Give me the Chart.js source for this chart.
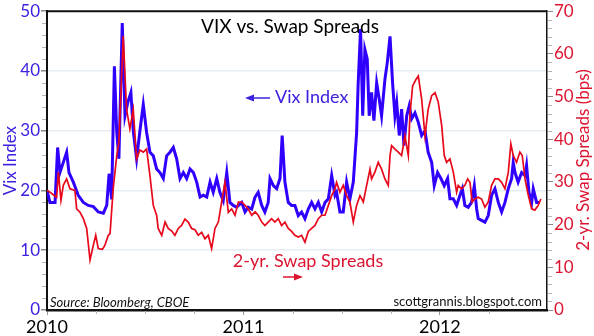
<!DOCTYPE html>
<html>
<head>
<meta charset="utf-8">
<script src="https://cdn.jsdelivr.net/npm/chart.js@4.4.1/dist/chart.umd.min.js"></script>
<style>
  html, body { margin: 0; padding: 0; background: #fff; }
  canvas { display: block; }
</style>
</head>
<body>
<canvas id="chart" width="594" height="336"></canvas>
<script>
// dates as fractional years
const vixDates = [
  2010.000, 2010.015, 2010.041, 2010.054, 2010.066, 2010.083, 2010.100, 2010.112, 2010.134, 2010.159,
  2010.185, 2010.210, 2010.236, 2010.261, 2010.287, 2010.304, 2010.316, 2010.329, 2010.343, 2010.355,
  2010.366, 2010.383, 2010.397, 2010.411, 2010.427, 2010.439, 2010.456, 2010.473, 2010.490, 2010.507,
  2010.524, 2010.541, 2010.558, 2010.575, 2010.592, 2010.609, 2010.626, 2010.643, 2010.660, 2010.677,
  2010.694, 2010.711, 2010.728, 2010.745, 2010.762, 2010.779, 2010.795, 2010.813, 2010.830, 2010.846,
  2010.864, 2010.880, 2010.897, 2010.915, 2010.931, 2010.948, 2010.965, 2010.991, 2011.008, 2011.024,
  2011.042, 2011.059, 2011.075, 2011.093, 2011.109, 2011.126, 2011.135, 2011.152, 2011.169, 2011.186,
  2011.197, 2011.211, 2011.228, 2011.245, 2011.262, 2011.279, 2011.296, 2011.313, 2011.330, 2011.347,
  2011.364, 2011.381, 2011.398, 2011.415, 2011.432, 2011.449, 2011.466, 2011.474, 2011.491, 2011.508,
  2011.525, 2011.542, 2011.559, 2011.567, 2011.576, 2011.584, 2011.596, 2011.607, 2011.618, 2011.630,
  2011.640, 2011.652, 2011.664, 2011.678, 2011.691, 2011.703, 2011.720, 2011.732, 2011.746, 2011.759,
  2011.771, 2011.780, 2011.793, 2011.805, 2011.817, 2011.831, 2011.844, 2011.856, 2011.873, 2011.890,
  2011.907, 2011.924, 2011.940, 2011.958, 2011.971, 2011.988, 2012.005, 2012.022, 2012.039, 2012.051,
  2012.068, 2012.085, 2012.102, 2012.114, 2012.127, 2012.144, 2012.161, 2012.175, 2012.187, 2012.195,
  2012.212, 2012.229, 2012.246, 2012.263, 2012.280, 2012.297, 2012.314, 2012.331, 2012.348, 2012.365,
  2012.373, 2012.382, 2012.398, 2012.416, 2012.433, 2012.441, 2012.453, 2012.467, 2012.475, 2012.492,
  2012.509
];
const vixValues = [
  20.0, 18.0, 18.0, 27.2, 23.0, 24.7, 26.4, 23.0, 21.4, 19.2,
  18.0, 17.5, 17.3, 16.4, 16.2, 17.5, 22.8, 18.5, 40.8, 29.7,
  25.3, 48.0, 32.5, 34.7, 36.4, 30.0, 25.3, 30.0, 34.4, 29.7,
  26.4, 25.8, 23.6, 23.0, 22.0, 25.8, 26.4, 27.2, 25.3, 22.0,
  23.0, 22.0, 23.6, 23.0, 21.4, 18.9, 19.2, 18.9, 21.4, 19.7,
  22.0, 19.7, 18.3, 23.0, 18.0, 17.5, 17.2, 18.0, 16.4, 17.2,
  16.9, 18.9, 19.7, 17.5, 16.4, 18.0, 22.0, 20.8, 20.3, 22.0,
  29.2, 21.4, 18.0, 17.5, 17.5, 15.8, 16.4, 15.3, 16.9, 18.0,
  16.9, 18.0, 16.4, 18.0, 18.6, 22.5, 19.2, 19.7, 16.4, 16.4,
  21.4, 18.6, 21.4, 25.3, 29.7, 38.0, 47.0, 32.5, 43.6, 42.0,
  32.5, 36.4, 31.7, 38.0, 35.3, 32.5, 38.6, 41.4, 45.8, 38.0,
  32.5, 34.7, 29.2, 33.6, 27.5, 32.5, 34.2, 32.0, 33.0, 31.4,
  29.2, 30.0, 26.4, 24.7, 20.8, 23.0, 22.0, 20.8, 22.0, 18.6,
  18.6, 17.5, 19.2, 20.3, 17.5, 17.2, 18.0, 20.8, 16.9, 15.3,
  15.0, 14.7, 15.8, 19.2, 20.3, 18.0, 16.4, 18.0, 20.3, 22.0,
  24.7, 23.0, 21.4, 23.0, 22.5, 24.2, 19.7, 18.0, 20.3, 18.0,
  18.0
];

const swapDates = [
  2010.000, 2010.015, 2010.032, 2010.049, 2010.058, 2010.071, 2010.083, 2010.100, 2010.117, 2010.142,
  2010.151, 2010.168, 2010.185, 2010.202, 2010.219, 2010.236, 2010.248, 2010.261, 2010.282, 2010.295,
  2010.312, 2010.321, 2010.337, 2010.355, 2010.366, 2010.388, 2010.405, 2010.422, 2010.439, 2010.456,
  2010.473, 2010.490, 2010.507, 2010.524, 2010.541, 2010.558, 2010.566, 2010.584, 2010.601, 2010.617,
  2010.635, 2010.651, 2010.668, 2010.685, 2010.702, 2010.719, 2010.736, 2010.753, 2010.770, 2010.787,
  2010.804, 2010.821, 2010.838, 2010.855, 2010.872, 2010.889, 2010.906, 2010.923, 2010.940, 2010.957,
  2010.974, 2010.991, 2011.008, 2011.024, 2011.042, 2011.059, 2011.075, 2011.093, 2011.109, 2011.126,
  2011.143, 2011.160, 2011.177, 2011.194, 2011.211, 2011.228, 2011.245, 2011.262, 2011.279, 2011.296,
  2011.313, 2011.330, 2011.347, 2011.364, 2011.381, 2011.398, 2011.415, 2011.432, 2011.449, 2011.466,
  2011.474, 2011.491, 2011.508, 2011.525, 2011.542, 2011.559, 2011.576, 2011.593, 2011.610, 2011.627,
  2011.644, 2011.652, 2011.669, 2011.686, 2011.703, 2011.720, 2011.737, 2011.746, 2011.754, 2011.771,
  2011.788, 2011.805, 2011.822, 2011.839, 2011.847, 2011.861, 2011.878, 2011.890, 2011.907, 2011.924,
  2011.940, 2011.958, 2011.975, 2011.991, 2012.009, 2012.022, 2012.034, 2012.051, 2012.068, 2012.085,
  2012.093, 2012.110, 2012.127, 2012.141, 2012.153, 2012.164, 2012.178, 2012.195, 2012.212, 2012.229,
  2012.246, 2012.263, 2012.280, 2012.297, 2012.314, 2012.331, 2012.348, 2012.361, 2012.373, 2012.390,
  2012.407, 2012.419, 2012.433, 2012.450, 2012.467, 2012.483, 2012.500, 2012.514
];
const swapValues = [
  28.0, 27.6, 27.0, 26.4, 32.3, 25.7, 29.2, 30.7, 28.4, 28.0,
  23.7, 22.9, 21.4, 19.1, 11.7, 15.2, 17.5, 14.4, 14.2, 15.2,
  17.5, 17.9, 28.4, 36.2, 39.3, 64.2, 47.0, 42.4, 47.0, 35.4,
  37.5, 37.0, 37.7, 31.5, 24.5, 22.2, 19.1, 17.5, 20.6, 19.1,
  18.5, 17.5, 19.1, 19.8, 21.3, 20.6, 19.1, 18.8, 17.5, 18.2,
  16.7, 17.5, 14.4, 19.1, 20.6, 25.3, 29.9, 22.9, 23.7, 22.2,
  25.3, 25.3, 24.5, 23.7, 22.2, 23.0, 22.2, 20.6, 19.8, 20.6,
  21.4, 20.6, 21.4, 19.8, 20.6, 19.1, 18.4, 17.5, 17.1, 17.5,
  15.9, 18.4, 19.1, 19.8, 21.4, 22.2, 22.2, 24.5, 26.8, 28.4,
  29.9, 27.6, 29.2, 26.8, 25.3, 20.6, 24.5, 26.8, 25.3, 29.2,
  33.0, 30.7, 32.3, 34.6, 33.0, 30.7, 29.2, 36.2, 38.5, 37.7,
  37.0, 36.2, 40.8, 36.2, 45.5, 52.5, 54.0, 54.8, 49.4, 40.8,
  47.0, 50.2, 50.9, 48.8, 43.2, 36.2, 34.6, 35.4, 32.3, 27.6,
  29.2, 28.4, 29.2, 30.7, 29.9, 25.3, 26.0, 26.4, 26.0, 24.1,
  25.3, 29.2, 30.7, 30.7, 29.9, 28.4, 32.3, 38.9, 36.2, 34.6,
  37.0, 36.2, 30.7, 26.8, 23.7, 23.4, 24.5, 26.0
];

const yearLabels = [2010, 2011, 2012];

const BLUE = "#3a22e0";
const RED = "#dc1430";
const FONT = "Lato, 'Noto Sans', sans-serif";

function toPoints(dates, values) {
  return dates.map((d, i) => ({ x: d, y: values[i] }));
}

// frame, minor ticks and the free-floating labels
const decorations = {
  id: "decorations",
  afterDraw(chart) {
    const ctx = chart.ctx;
    const a = chart.chartArea;
    const sx = chart.scales.x, sy = chart.scales.y, sy2 = chart.scales.y2;
    ctx.save();

    // top border
    ctx.strokeStyle = "#111";
    ctx.lineWidth = 2;
    ctx.beginPath();
    ctx.moveTo(a.left - 1, a.top);
    ctx.lineTo(a.right, a.top);
    ctx.stroke();

    // minor ticks
    ctx.strokeStyle = "#b5b5b5";
    ctx.lineWidth = 1;
    ctx.beginPath();
    for (let v = 2; v < 50; v += 2) {
      if (v % 10 === 0) continue;
      const y = Math.round(sy.getPixelForValue(v)) + 0.5;
      ctx.moveTo(a.left - 5, y); ctx.lineTo(a.left - 1, y);
    }
    for (let v = 2; v < 70; v += 2) {
      if (v % 10 === 0) continue;
      const y = Math.round(sy2.getPixelForValue(v)) + 0.5;
      ctx.moveTo(a.right + 1, y); ctx.lineTo(a.right + 5, y);
    }
    for (let q = 2010.25; q < 2012.5; q += 0.25) {
      if (Math.abs(q - Math.round(q)) < 1e-6) continue;
      const x = Math.round(sx.getPixelForValue(q)) + 0.5;
      ctx.moveTo(x, a.bottom + 1); ctx.lineTo(x, a.bottom + 4);
    }
    ctx.stroke();

    // title
    ctx.fillStyle = "#000";
    ctx.font = "19px " + FONT;
    ctx.textAlign = "center";
    ctx.textBaseline = "middle";
    ctx.fillText("VIX vs. Swap Spreads", 290, 27);

    // vix label with left arrow
    ctx.fillStyle = BLUE;
    ctx.strokeStyle = BLUE;
    ctx.lineWidth = 1.5;
    ctx.beginPath();
    ctx.moveTo(252, 98); ctx.lineTo(270, 98);
    ctx.stroke();
    ctx.beginPath();
    ctx.moveTo(245, 98); ctx.lineTo(254, 94.5); ctx.lineTo(254, 101.5); ctx.closePath();
    ctx.fill();
    ctx.font = "18px " + FONT;
    ctx.textAlign = "left";
    ctx.fillText("Vix Index", 275, 97);

    // swap label with right arrow
    ctx.fillStyle = RED;
    ctx.strokeStyle = RED;
    ctx.textAlign = "center";
    ctx.fillText("2-yr. Swap Spreads", 308, 261);
    ctx.beginPath();
    ctx.moveTo(283, 277); ctx.lineTo(296, 277);
    ctx.stroke();
    ctx.beginPath();
    ctx.moveTo(303, 277); ctx.lineTo(294, 273.5); ctx.lineTo(294, 280.5); ctx.closePath();
    ctx.fill();

    // right axis title, reading bottom to top
    ctx.save();
    ctx.translate(584, 160);
    ctx.rotate(-Math.PI / 2);
    ctx.font = "17px " + FONT;
    ctx.fillText("2-yr. Swap Spreads (bps)", 0, 0);
    ctx.restore();

    // footnotes
    ctx.fillStyle = "#111";
    ctx.font = "italic 13px " + FONT;
    ctx.textAlign = "left";
    ctx.fillText("Source: Bloomberg, CBOE", 50, 303);
    ctx.font = "13px " + FONT;
    ctx.textAlign = "right";
    ctx.fillText("scottgrannis.blogspot.com", 542, 302);

    ctx.restore();
  }
};

new Chart(document.getElementById("chart"), {
  type: "line",
  data: {
    datasets: [
      {
        label: "2-yr. Swap Spreads",
        data: toPoints(swapDates, swapValues),
        yAxisID: "y2",
        borderColor: "#e8081c",
        borderWidth: 1.7,
        pointRadius: 0,
        tension: 0,
        order: 0
      },
      {
        label: "Vix Index",
        data: toPoints(vixDates, vixValues),
        yAxisID: "y",
        borderColor: "#3000ff",
        borderWidth: 3,
        pointRadius: 0,
        tension: 0,
        order: 1
      }
    ]
  },
  options: {
    responsive: false,
    animation: false,
    layout: { padding: { top: 10, left: 0, right: 0, bottom: 0 } },
    plugins: {
      legend: { display: false },
      tooltip: { enabled: false }
    },
    scales: {
      x: {
        type: "linear",
        position: "bottom",
        min: 2010,
        max: 2012.545,
        afterBuildTicks: s => {
          s.ticks = yearLabels.map(v => ({ value: v }));
        },
        afterFit: s => { s.height = 26; },
        ticks: {
          autoSkip: false,
          maxRotation: 0,
          padding: 1,
          color: "#000",
          font: { family: FONT, size: 18 },
          callback: v => String(v)
        },
        grid: { drawOnChartArea: false, tickLength: 5, tickColor: "#999" },
        border: { color: "#111", width: 2.5 }
      },
      y: {
        position: "left",
        min: 0,
        max: 50,
        afterFit: s => { s.width = 47; },
        ticks: {
          stepSize: 10,
          padding: 1,
          color: BLUE,
          font: { family: FONT, size: 17 }
        },
        grid: {
          color: c => (c.tick && (c.tick.value === 0 || c.tick.value === 50)) ? "rgba(0,0,0,0)" : "#e5ecf3",
          lineWidth: 1.5,
          tickLength: 6,
          tickColor: "#888"
        },
        border: { color: "#111", width: 2 },
        title: {
          display: true,
          text: "Vix Index",
          color: BLUE,
          padding: 0,
          font: { family: FONT, size: 17 }
        }
      },
      y2: {
        position: "right",
        min: 0,
        max: 70,
        afterFit: s => { s.width = 47; },
        ticks: {
          stepSize: 10,
          padding: 1,
          color: RED,
          font: { family: FONT, size: 17 }
        },
        grid: { drawOnChartArea: false, tickLength: 6, tickColor: "#888" },
        border: { color: "#111", width: 1.5 }
      }
    }
  },
  plugins: [decorations]
});
</script>
</body>
</html>
